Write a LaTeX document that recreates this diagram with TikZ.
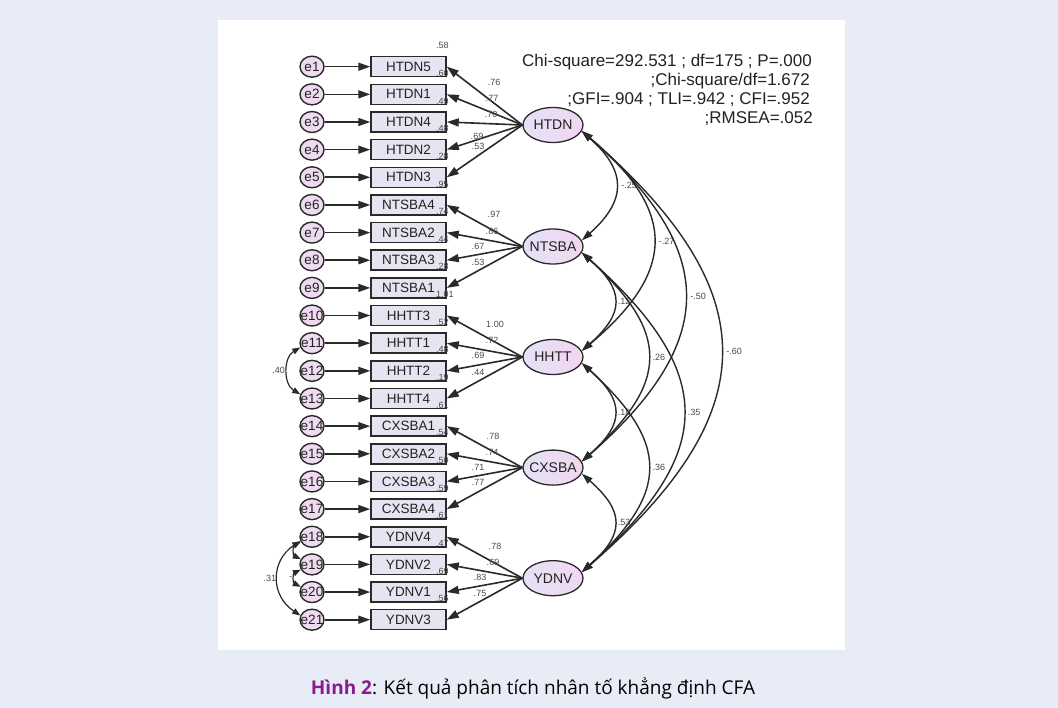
\documentclass[tikz,border=0pt]{standalone}
\usepackage{fontspec}
\setmainfont{Liberation Sans}
\newfontfamily\capfont{Open Sans}
\usetikzlibrary{arrows.meta,shapes.geometric}
\definecolor{outerbg}{HTML}{E8ECF6}
\definecolor{errfill}{HTML}{F0DAF2}
\definecolor{boxfill}{HTML}{E5E5F1}
\definecolor{latL}{HTML}{E4E2F6}
\definecolor{latR}{HTML}{F2D6F0}
\definecolor{lineC}{HTML}{2A2A2A}
\definecolor{numC}{HTML}{4A4A4A}
\definecolor{txtC}{HTML}{222222}
\definecolor{capP}{HTML}{8B1A8E}
\begin{document}
\begin{tikzpicture}[x=1pt,y=-1pt,
  errnode/.style={ellipse, draw=lineC, line width=1.4pt, fill=errfill, minimum width=24pt, minimum height=21pt, inner sep=0pt,
    label={[font=\fontsize{13.5}{14}\selectfont, text=txtC]center:#1}},
  obsbox/.style={rectangle, draw=lineC, line width=1.5pt, fill=boxfill, minimum width=75pt, minimum height=20pt, inner sep=0pt, text=txtC,
    font=\fontsize{13.5}{14}\selectfont},
  latent/.style={ellipse, draw=lineC, line width=1.3pt, left color=latL, right color=latR, minimum width=60pt, minimum height=35pt, inner sep=0pt, text=txtC,
    font=\fontsize{14}{15}\selectfont},
  arr/.style={draw=lineC, line width=1.6pt, -{Triangle[length=12pt,width=8pt]}},
  darr/.style={draw=lineC, line width=1.4pt, {Triangle[length=11pt,width=7pt]}-{Triangle[length=11pt,width=7pt]}},
  sarr/.style={draw=lineC, line width=1.2pt, {Triangle[length=8pt,width=6pt]}-{Triangle[length=8pt,width=6pt]}},
  num/.style={font=\fontsize{9}{10}\selectfont, text=numC, inner sep=0pt},
  fitline/.style={font=\fontsize{17}{19}\selectfont, text=txtC, anchor=east, inner sep=0pt}
]
% backgrounds
\fill[outerbg] (0,0) rectangle (1058,708);
\fill[white] (218,20) rectangle (845,650);

% observed variables and errors
\foreach \i/\lab/\rsq [evaluate=\i as \yy using {66.7+(\i-1)*27.65}] in
  {1/HTDN5/.58, 2/HTDN1/.60, 3/HTDN4/.49, 4/HTDN2/.48, 5/HTDN3/.28,
   6/NTSBA4/.95, 7/NTSBA2/.74, 8/NTSBA3/.44, 9/NTSBA1/.28,
   10/HHTT3/1.01, 11/HHTT1/.52, 12/HHTT2/.48, 13/HHTT4/.19,
   14/CXSBA1/.61, 15/CXSBA2/.54, 16/CXSBA3/.50, 17/CXSBA4/.59,
   18/YDNV4/.61, 19/YDNV2/.47, 20/YDNV1/.69, 21/YDNV3/.56} {
  \node[errnode={e\i}] (e\i) at (312,\yy) {};
  \node[obsbox] (b\i) at (408.5,\yy) {\lab};
  \draw[arr] (e\i) -- (b\i);
  \node[num, anchor=west] (r\i) at (436,\yy-21) {\rsq};
}

% latent variables
\node[latent] (L1) at (553,125) {\makebox[0pt]{HTDN}};
\node[latent] (L2) at (553,246.5) {\makebox[0pt]{NTSBA}};
\node[latent] (L3) at (553,357) {\makebox[0pt]{HHTT}};
\node[latent] (L4) at (553,467.6) {\makebox[0pt]{CXSBA}};
\node[latent] (L5) at (553,578.2) {\makebox[0pt]{YDNV}};

% loadings
\foreach \l/\b in {1/1,1/2,1/3,1/4,1/5,2/6,2/7,2/8,2/9,3/10,3/11,3/12,3/13,4/14,4/15,4/16,4/17,5/18,5/19,5/20,5/21}
  \draw[arr] (L\l.west) -- (b\b.east);

% loading labels
\foreach \x/\y/\t in {494/82/.76, 492/98/.77, 491/114/.70, 477/136/.69, 478/146/.53,
  494/214/.97, 492/231/.86, 478/246/.67, 478/262/.53,
  495/324/1.00, 492/340/.72, 478/355/.69, 478/372/.44,
  493/436/.78, 492/452/.74, 478/467/.71, 478/482/.77,
  495/546/.78, 493/562/.69, 480/577/.83, 480/593/.75}
  \node[num] at (\x,\y) {\t};

% correlations between latent variables
\draw[darr] (L1.-12) .. controls +(45,40) and +(45,-40) .. node[num, pos=0.5, right=5pt] {-.25} (L2.12);
\draw[darr] (L1.-12) .. controls +(95,80) and +(95,-80) .. node[num, pos=0.5, right=5pt] {-.27} (L3.12);
\draw[darr] (L1.-12) .. controls +(137,120) and +(137,-120) .. node[num, pos=0.5, right=5pt] {-.50} (L4.12);
\draw[darr] (L1.-12) .. controls +(185,160) and +(185,-160) .. node[num, pos=0.5, right=5pt] {-.60} (L5.12);
\draw[darr] (L2.-12) .. controls +(43,38) and +(43,-38) .. node[num, pos=0.5, right=3pt] {.12} (L3.12);
\draw[darr] (L2.-12) .. controls +(88,80) and +(88,-80) .. node[num, pos=0.5, right=4pt] {.26} (L4.12);
\draw[darr] (L2.-12) .. controls +(135,120) and +(135,-120) .. node[num, pos=0.5, right=4pt] {.35} (L5.12);
\draw[darr] (L3.-12) .. controls +(43,38) and +(43,-38) .. node[num, pos=0.5, right=3pt] {.18} (L4.12);
\draw[darr] (L3.-12) .. controls +(88,80) and +(88,-80) .. node[num, pos=0.5, right=4pt] {.36} (L5.12);
\draw[darr] (L4.-12) .. controls +(43,38) and +(43,-38) .. node[num, pos=0.5, right=3pt] {.53} (L5.12);

% error covariances
\draw[sarr] (e11.200) .. controls +(-17,10) and +(-17,-10) .. node[num, pos=0.5, left=2pt] {.40} (e13.160);
\draw[sarr] (e18.200) .. controls +(-30,20) and +(-30,-20) .. node[num, pos=0.5, left=1pt] {.31} (e21.160);
\draw[sarr] (e18.205) .. controls +(-8,4) and +(-8,-4) .. (e19.155);
\draw[sarr] (e19.205) .. controls +(-8,4) and +(-8,-4) .. node[num, pos=0.5, left=2pt] {-} (e20.155);

% fit indices
\node[fitline] (f1) at (812,62) {Chi-square=292.531 ; df=175 ; P=.000};
\node[fitline] (f2) at (810,81) {;Chi-square/df=1.672};
\node[fitline] (f3) at (810,100) {;GFI=.904 ; TLI=.942 ; CFI=.952};
\node[fitline] (f4) at (813,119) {;RMSEA=.052};

% caption
\node[font=\capfont\fontsize{19}{22}\selectfont, text=black] (cap) at (533,688)
  {\textcolor{capP}{\bfseries Hình 2}: Kết quả phân tích nhân tố khẳng định CFA};
\end{tikzpicture}
\end{document}
